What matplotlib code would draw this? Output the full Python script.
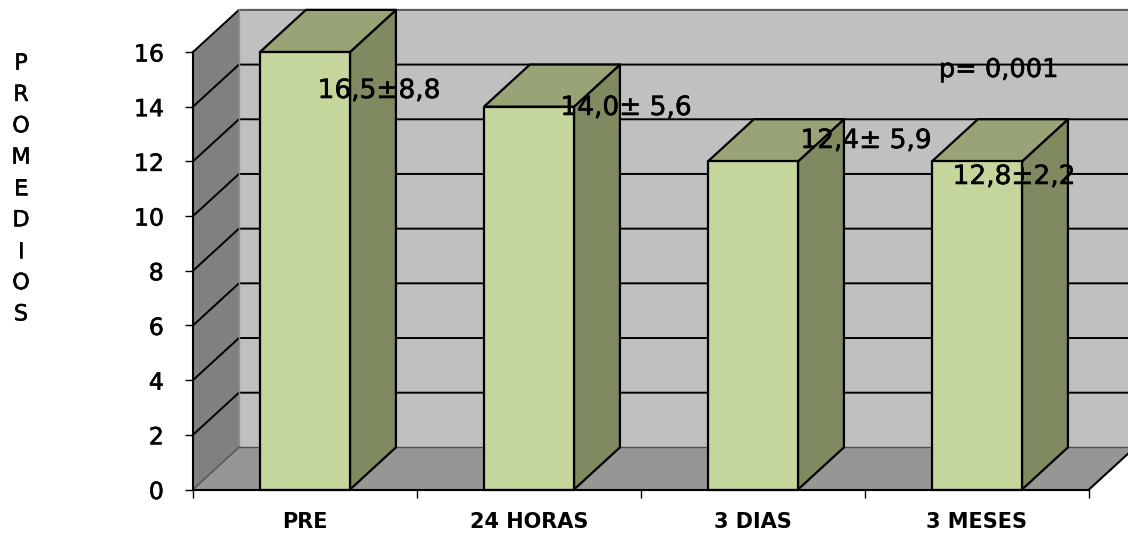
import matplotlib
matplotlib.use('Agg')
import matplotlib.pyplot as plt
import matplotlib.patheffects as pe
from matplotlib.patches import Polygon

categorias = ['PRE', '24 HORAS', '3 DIAS', '3 MESES']
promedios = [16, 14, 12, 12]
etiquetas = ['16,5±8,8', '14,0± 5,6', '12,4± 5,9', '12,8±2,2']
etiq_x = [379, 626, 866, 1014]
etiq_y = [91, 108, 141, 177]
yticks = [0, 2, 4, 6, 8, 10, 12, 14, 16]

W, H = 1128, 533
ancho = 0.402      # bar width in category units
dx, dy = 0.205, 1.54   # depth of the 3d box

plt.rcParams['font.family'] = ['DejaVu Sans']
grueso = [pe.withStroke(linewidth=0.4, foreground='black')]

fig = plt.figure(figsize=(W / 100, H / 100), dpi=100, facecolor='white')
ax = fig.add_axes([193.0 / W, (H - 489.5) / H, 896.0 / W, 437.5 / H])
ax.set_xlim(0, 4)
ax.set_ylim(0, 16)


def poly(pts, color, edge='none', lw=0, z=1):
    ax.add_patch(Polygon(pts, closed=True, facecolor=color, edgecolor=edge,
                         linewidth=lw, clip_on=False, zorder=z, joinstyle='round'))


# walls and floor
poly([(dx, dy), (4 + dx, dy), (4 + dx, 16 + dy), (dx, 16 + dy)], '#c0c0c0')
poly([(0, 0), (dx, dy), (dx, 16 + dy), (0, 16)], '#808080')
poly([(0, 0), (4, 0), (4 + dx, dy), (dx, dy)], '#969696')

# grid on both walls
for v in yticks[1:]:
    ax.plot([0, dx, 4 + dx], [v, v + dy, v + dy], color='black', lw=1.4,
            clip_on=False, zorder=2)
ax.plot([dx, 4 + dx], [16 + dy, 16 + dy], color='#606060', lw=1.4, clip_on=False, zorder=2)
ax.plot([dx, dx], [dy, 16 + dy], color='#909090', lw=1.0, clip_on=False, zorder=2)
ax.plot([dx, 4 + dx], [dy, dy], color='#505050', lw=1.0, clip_on=False, zorder=2)
ax.plot([0, dx], [0, dy], color='#505050', lw=1.0, clip_on=False, zorder=2)
ax.plot([4, 4 + dx], [0, dy], color='black', lw=1.5, clip_on=False, zorder=2)

# bars
for i, v in enumerate(promedios):
    x0 = i + 0.5 - ancho / 2
    x1 = i + 0.5 + ancho / 2
    z = 3 + i
    poly([(x1, 0), (x1 + dx, dy), (x1 + dx, v + dy), (x1, v)], '#7f8a60', 'black', 1.6, z)
    poly([(x0, v), (x1, v), (x1 + dx, v + dy), (x0 + dx, v + dy)], '#98a376', 'black', 1.6, z)
    poly([(x0, 0), (x1, 0), (x1, v), (x0, v)], '#c5d69c', 'black', 1.6, z)

for s in ['top', 'right']:
    ax.spines[s].set_visible(False)
for s in ['left', 'bottom']:
    ax.spines[s].set_linewidth(1.5)
    ax.spines[s].set_zorder(10)

ax.set_yticks(yticks)
ax.set_yticklabels([str(v) for v in yticks], fontsize=17, path_effects=grueso)
ax.tick_params(axis='y', length=6, width=1, pad=15)
ax.set_xticks([0, 1, 2, 3, 4])
ax.set_xticklabels([])
ax.tick_params(axis='x', length=6, width=1)
ax.set_xticks([0.5, 1.5, 2.5, 3.5], minor=True)
ax.set_xticklabels(categorias, minor=True, fontsize=15, fontweight='bold')
ax.tick_params(axis='x', which='minor', length=0, pad=16)

# text annotations in figure pixels
for s, x, y in zip(etiquetas, etiq_x, etiq_y):
    fig.text(x / W, 1 - y / H, s, fontsize=19, ha='center', va='center', color='black',
             zorder=20, path_effects=grueso)
fig.text(999 / W, 1 - 70 / H, 'p= 0,001', fontsize=18.5, ha='center', va='center', color='black',
         path_effects=grueso)
fig.text(21 / W, 1 - 189 / H, '\n'.join('PROMEDIOS'), fontsize=16, ha='center', va='center',
         linespacing=1.71, color='black', path_effects=grueso)

fig.savefig('out.png', dpi=100)
